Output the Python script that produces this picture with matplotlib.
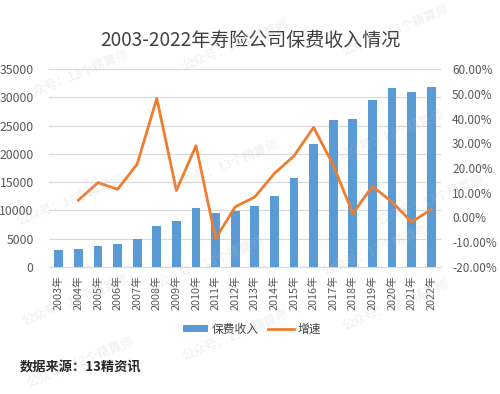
import matplotlib
matplotlib.use("Agg")
import matplotlib.pyplot as plt
import numpy as np
from matplotlib.ticker import FuncFormatter, MultipleLocator

plt.rcParams['font.family'] = ['Noto Sans CJK SC', 'DejaVu Sans']

years = [f"{y}年" for y in range(2003, 2023)]
premium = [2960, 3130, 3660, 4130, 4900, 7260, 8090, 10450, 9500, 9980,
           10740, 12630, 15760, 21660, 25900, 26200, 29500, 31580, 30870, 31820]
growth = [None, 7.0, 14.1, 11.4, 21.6, 48.1, 10.9, 29.0, -8.5, 4.3,
          8.3, 17.8, 24.9, 36.4, 21.2, 1.6, 12.6, 6.3, -1.8, 3.2]

W, H = 500, 394
fig = plt.figure(figsize=(W/100, H/100), dpi=100)
fig.patch.set_facecolor('white')

ax = fig.add_axes([49/W, 1-267/H, (441-49)/W, (267-69)/H])
x = np.arange(len(years))
bars = ax.bar(x, premium, width=0.45, color='#5B9BD5', label='保费收入', zorder=3)
ax.set_ylim(0, 35000)
ax.set_xlim(-0.5, len(years)-0.5)
ax.yaxis.set_major_locator(MultipleLocator(5000))
ax.grid(axis='y', color='#D9D9D9', linewidth=0.8, zorder=0)
for s in ax.spines.values():
    s.set_visible(False)
ax.spines['bottom'].set_visible(True)
ax.spines['bottom'].set_color('#D9D9D9')
ax.tick_params(axis='both', length=0, colors='#595959')
ax.tick_params(axis='y', labelsize=8.8, pad=11)
ax.tick_params(axis='x', pad=6)
ax.set_xticks(x)
ax.set_xticklabels(years, rotation=90, fontsize=7.8, color='#595959')

ax2 = ax.twinx()
gx = [i for i, g in enumerate(growth) if g is not None]
gy = [g for g in growth if g is not None]
line, = ax2.plot(gx, gy, color='#ED7D31', linewidth=2.0, label='增速', zorder=4)
ax2.set_ylim(-20, 60)
ax2.yaxis.set_major_locator(MultipleLocator(10))
ax2.yaxis.set_major_formatter(FuncFormatter(lambda v, p: f"{v:.2f}%"))
for s in ax2.spines.values():
    s.set_visible(False)
ax2.tick_params(axis='y', length=0, colors='#595959', labelsize=8.5, pad=8)

fig.text(250/W, 1-40/H, '2003-2022年寿险公司保费收入情况', ha='center', va='center',
         fontsize=13.7, color='#404040', fontweight='medium')

fig.legend(handles=[bars, line], labels=['保费收入', '增速'], loc='center',
           bbox_to_anchor=(252/W, 1-329/H), ncol=2, frameon=False, fontsize=8.5,
           handlelength=2.2, handleheight=0.6, columnspacing=0.8, handletextpad=0.3,
           labelcolor='#404040')

fig.text(20/W, 1-367/H, '数据来源：13精资讯', ha='left', va='center', fontsize=9.5,
         color='#262626', fontweight='bold')

# faint watermarks
marks = [(75, 75), (235, 45), (395, 30), (70, 200), (225, 165), (390, 135), (75, 300),
         (210, 262), (375, 250), (235, 335), (395, 305), (80, 362), (430, 200)]
for mx, my in marks:
    fig.text(mx/W, 1-my/H, '公众号：13个精算师', ha='center', va='center', fontsize=9,
             color='#BFBFBF', alpha=0.25, rotation=22, style='italic', zorder=10)

fig.savefig('out.png', dpi=100)
